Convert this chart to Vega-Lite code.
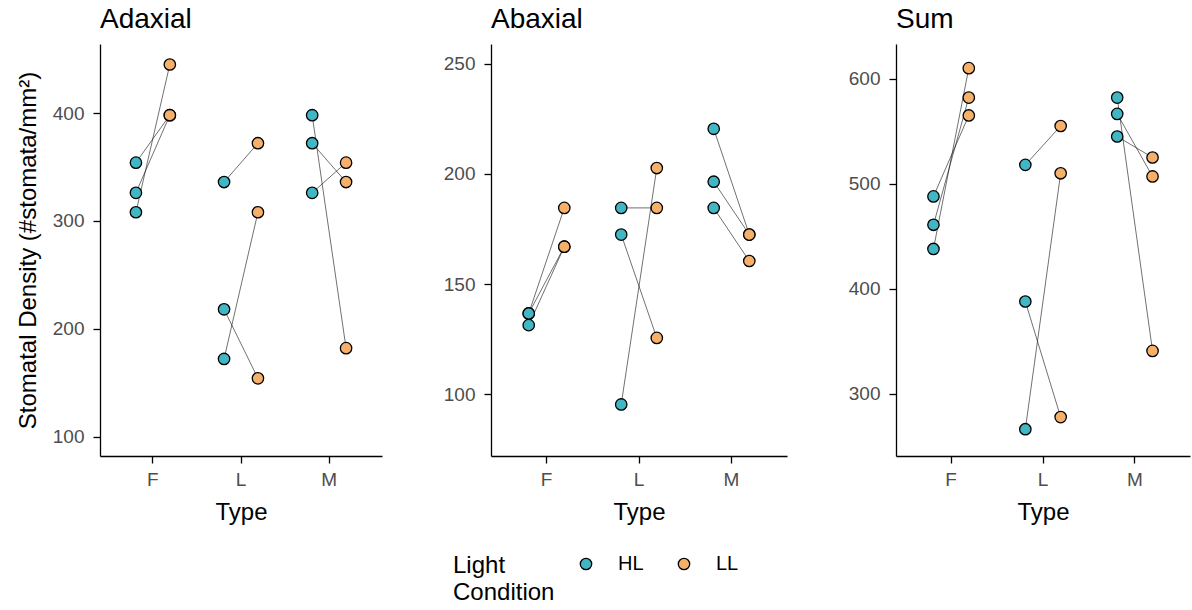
{
  "$schema": "https://vega.github.io/schema/vega-lite/v6.json",
  "background": "white",
  "padding": {"left": 16, "top": 6, "right": 2, "bottom": 2},
  "config": {
    "font": "Liberation Sans",
    "view": {"stroke": null},
    "axis": {"grid": false, "domainColor": "#000000", "domainWidth": 1.3, "tickColor": "#000000", "tickSize": 7, "tickWidth": 1.3, "labelColor": "#4D4D4D", "labelFontSize": 19, "labelFont": "Liberation Sans", "titleFont": "Liberation Sans", "titleFontSize": 24, "titleFontWeight": "normal", "titleColor": "#000000", "labelPadding": 9, "titlePadding": 12},
    "axisX": {"labelPadding": 7, "titlePadding": 11},
    "title": {"font": "Liberation Sans", "fontSize": 28, "fontWeight": "normal", "color": "#000000", "anchor": "start", "frame": "group", "offset": 10},
    "legend": {"titleFontSize": 24, "titleFontWeight": "normal", "titleColor": "#000000", "labelFontSize": 20, "labelColor": "#000000", "titleFont": "Liberation Sans", "labelFont": "Liberation Sans", "symbolSize": 130, "symbolStrokeColor": "#000000", "symbolStrokeWidth": 1.3, "columnPadding": 30, "labelOffset": 22, "titlePadding": 21, "titleLineHeight": 27, "titleAnchor": "start"}
  },
  "data": {"values": [
    {"panel": "Adaxial", "Type": "F", "Light": "HL", "pair": "F1", "value": 354},
    {"panel": "Adaxial", "Type": "F", "Light": "LL", "pair": "F1", "value": 398},
    {"panel": "Adaxial", "Type": "F", "Light": "HL", "pair": "F2", "value": 326},
    {"panel": "Adaxial", "Type": "F", "Light": "LL", "pair": "F2", "value": 398},
    {"panel": "Adaxial", "Type": "F", "Light": "HL", "pair": "F3", "value": 308},
    {"panel": "Adaxial", "Type": "F", "Light": "LL", "pair": "F3", "value": 445},
    {"panel": "Adaxial", "Type": "L", "Light": "HL", "pair": "L1", "value": 336},
    {"panel": "Adaxial", "Type": "L", "Light": "LL", "pair": "L1", "value": 372},
    {"panel": "Adaxial", "Type": "L", "Light": "HL", "pair": "L2", "value": 218},
    {"panel": "Adaxial", "Type": "L", "Light": "LL", "pair": "L2", "value": 154},
    {"panel": "Adaxial", "Type": "L", "Light": "HL", "pair": "L3", "value": 172},
    {"panel": "Adaxial", "Type": "L", "Light": "LL", "pair": "L3", "value": 308},
    {"panel": "Adaxial", "Type": "M", "Light": "HL", "pair": "M1", "value": 398},
    {"panel": "Adaxial", "Type": "M", "Light": "LL", "pair": "M1", "value": 182},
    {"panel": "Adaxial", "Type": "M", "Light": "HL", "pair": "M2", "value": 372},
    {"panel": "Adaxial", "Type": "M", "Light": "LL", "pair": "M2", "value": 336},
    {"panel": "Adaxial", "Type": "M", "Light": "HL", "pair": "M3", "value": 326},
    {"panel": "Adaxial", "Type": "M", "Light": "LL", "pair": "M3", "value": 354},
    {"panel": "Abaxial", "Type": "F", "Light": "HL", "pair": "F1", "value": 136.7},
    {"panel": "Abaxial", "Type": "F", "Light": "LL", "pair": "F1", "value": 184.6},
    {"panel": "Abaxial", "Type": "F", "Light": "HL", "pair": "F2", "value": 131.4},
    {"panel": "Abaxial", "Type": "F", "Light": "LL", "pair": "F2", "value": 167},
    {"panel": "Abaxial", "Type": "F", "Light": "HL", "pair": "F3", "value": 136.7},
    {"panel": "Abaxial", "Type": "F", "Light": "LL", "pair": "F3", "value": 167},
    {"panel": "Abaxial", "Type": "L", "Light": "HL", "pair": "L1", "value": 184.6},
    {"panel": "Abaxial", "Type": "L", "Light": "LL", "pair": "L1", "value": 184.6},
    {"panel": "Abaxial", "Type": "L", "Light": "HL", "pair": "L2", "value": 172.5},
    {"panel": "Abaxial", "Type": "L", "Light": "LL", "pair": "L2", "value": 125.6},
    {"panel": "Abaxial", "Type": "L", "Light": "HL", "pair": "L3", "value": 95.4},
    {"panel": "Abaxial", "Type": "L", "Light": "LL", "pair": "L3", "value": 202.7},
    {"panel": "Abaxial", "Type": "M", "Light": "HL", "pair": "M1", "value": 220.5},
    {"panel": "Abaxial", "Type": "M", "Light": "LL", "pair": "M1", "value": 172.5},
    {"panel": "Abaxial", "Type": "M", "Light": "HL", "pair": "M2", "value": 196.5},
    {"panel": "Abaxial", "Type": "M", "Light": "LL", "pair": "M2", "value": 172.5},
    {"panel": "Abaxial", "Type": "M", "Light": "HL", "pair": "M3", "value": 184.6},
    {"panel": "Abaxial", "Type": "M", "Light": "LL", "pair": "M3", "value": 160.5},
    {"panel": "Sum", "Type": "F", "Light": "HL", "pair": "F1", "value": 488},
    {"panel": "Sum", "Type": "F", "Light": "LL", "pair": "F1", "value": 565},
    {"panel": "Sum", "Type": "F", "Light": "HL", "pair": "F2", "value": 461},
    {"panel": "Sum", "Type": "F", "Light": "LL", "pair": "F2", "value": 582},
    {"panel": "Sum", "Type": "F", "Light": "HL", "pair": "F3", "value": 438},
    {"panel": "Sum", "Type": "F", "Light": "LL", "pair": "F3", "value": 610},
    {"panel": "Sum", "Type": "L", "Light": "HL", "pair": "L1", "value": 518},
    {"panel": "Sum", "Type": "L", "Light": "LL", "pair": "L1", "value": 555},
    {"panel": "Sum", "Type": "L", "Light": "HL", "pair": "L2", "value": 388},
    {"panel": "Sum", "Type": "L", "Light": "LL", "pair": "L2", "value": 278},
    {"panel": "Sum", "Type": "L", "Light": "HL", "pair": "L3", "value": 266.5},
    {"panel": "Sum", "Type": "L", "Light": "LL", "pair": "L3", "value": 510},
    {"panel": "Sum", "Type": "M", "Light": "HL", "pair": "M1", "value": 582},
    {"panel": "Sum", "Type": "M", "Light": "LL", "pair": "M1", "value": 341},
    {"panel": "Sum", "Type": "M", "Light": "HL", "pair": "M2", "value": 566.5},
    {"panel": "Sum", "Type": "M", "Light": "LL", "pair": "M2", "value": 507},
    {"panel": "Sum", "Type": "M", "Light": "HL", "pair": "M3", "value": 545},
    {"panel": "Sum", "Type": "M", "Light": "LL", "pair": "M3", "value": 525}
  ]},
  "spacing": 61,
  "align": "none",
  "hconcat": [
    {
      "title": "Adaxial",
      "width": 282, "height": 412,
      "transform": [{"filter": "datum.panel === 'Adaxial'"}],
      "encoding": {
        "x": {"field": "Type", "type": "nominal", "title": "Type", "scale": {"paddingInner": 0, "paddingOuter": 0.1}, "axis": {"labelAngle": 0}},
        "xOffset": {"field": "Light", "type": "nominal", "scale": {"type": "band", "paddingInner": 0, "paddingOuter": 0.3}},
        "y": {"field": "value", "type": "quantitative", "title": "Stomatal Density (#stomata/mm²)", "scale": {"domain": [82, 464], "nice": false, "zero": false}, "axis": {"values": [100, 200, 300, 400]}}
      },
      "layer": [
        {"mark": {"type": "line", "color": "#111111", "strokeWidth": 0.6}, "encoding": {"detail": {"field": "pair"}}},
        {"mark": {"type": "point", "filled": true, "stroke": "#000000", "strokeWidth": 1.3, "size": 130, "opacity": 1, "shape": "circle"}, "encoding": {"fill": {"field": "Light", "type": "nominal", "title": ["Light", "Condition"], "scale": {"domain": ["HL", "LL"], "range": ["#41B6C4", "#F5B06B"]}, "legend": {"orient": "none", "direction": "horizontal", "titleOrient": "left", "legendX": 353, "legendY": 510}}}}
      ]
    },
    {
      "title": "Abaxial",
      "width": 296, "height": 412,
      "transform": [{"filter": "datum.panel === 'Abaxial'"}],
      "encoding": {
        "x": {"field": "Type", "type": "nominal", "title": "Type", "scale": {"paddingInner": 0, "paddingOuter": 0.1}, "axis": {"labelAngle": 0}},
        "xOffset": {"field": "Light", "type": "nominal", "scale": {"type": "band", "paddingInner": 0, "paddingOuter": 0.3}},
        "y": {"field": "value", "type": "quantitative", "title": null, "scale": {"domain": [72, 259], "nice": false, "zero": false}, "axis": {"values": [100, 150, 200, 250]}}
      },
      "layer": [
        {"mark": {"type": "line", "color": "#111111", "strokeWidth": 0.6}, "encoding": {"detail": {"field": "pair"}}},
        {"mark": {"type": "point", "filled": true, "stroke": "#000000", "strokeWidth": 1.3, "size": 130, "opacity": 1, "shape": "circle"}, "encoding": {"fill": {"field": "Light", "type": "nominal", "title": ["Light", "Condition"], "scale": {"domain": ["HL", "LL"], "range": ["#41B6C4", "#F5B06B"]}, "legend": null}}}
      ]
    },
    {
      "title": "Sum",
      "width": 294, "height": 412,
      "transform": [{"filter": "datum.panel === 'Sum'"}],
      "encoding": {
        "x": {"field": "Type", "type": "nominal", "title": "Type", "scale": {"paddingInner": 0, "paddingOuter": 0.1}, "axis": {"labelAngle": 0}},
        "xOffset": {"field": "Light", "type": "nominal", "scale": {"type": "band", "paddingInner": 0, "paddingOuter": 0.3}},
        "y": {"field": "value", "type": "quantitative", "title": null, "scale": {"domain": [241, 633], "nice": false, "zero": false}, "axis": {"values": [300, 400, 500, 600]}}
      },
      "layer": [
        {"mark": {"type": "line", "color": "#111111", "strokeWidth": 0.6}, "encoding": {"detail": {"field": "pair"}}},
        {"mark": {"type": "point", "filled": true, "stroke": "#000000", "strokeWidth": 1.3, "size": 130, "opacity": 1, "shape": "circle"}, "encoding": {"fill": {"field": "Light", "type": "nominal", "title": ["Light", "Condition"], "scale": {"domain": ["HL", "LL"], "range": ["#41B6C4", "#F5B06B"]}, "legend": null}}}
      ]
    }
  ],
  "resolve": {"scale": {"y": "independent", "x": "independent", "xOffset": "independent"}, "legend": {"fill": "shared"}}
}
